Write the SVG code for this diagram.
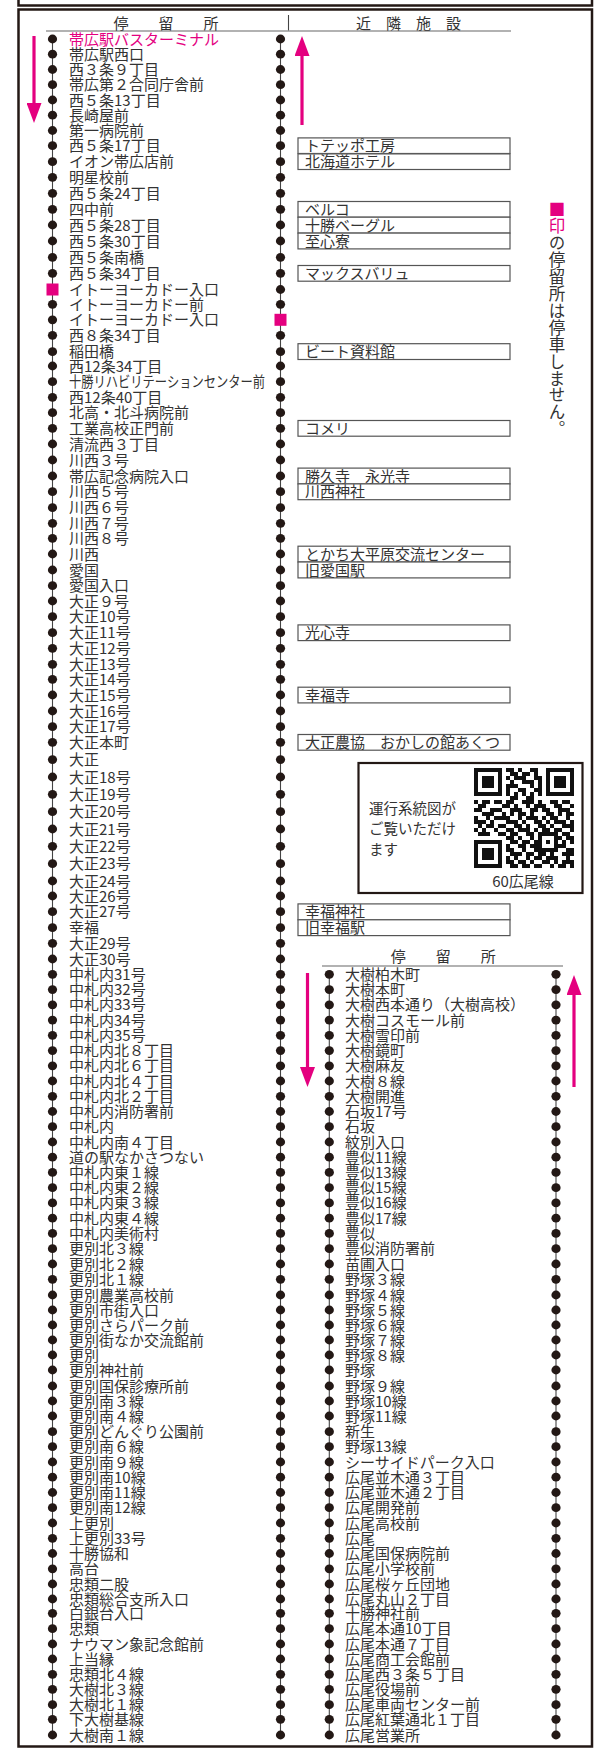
<svg xmlns="http://www.w3.org/2000/svg" xmlns:xlink="http://www.w3.org/1999/xlink" width="601" height="1751" viewBox="0 0 601 1751">
<style>
text{font-family:"Noto Sans CJK JP","Noto Sans CJK SC",sans-serif;font-size:15px;fill:#333}
.pk{fill:#e4007f}
.box{fill:#fff;stroke:#555;stroke-width:1.2}
.dot{fill:#231815}
.rail{stroke:#444;stroke-width:1.1;fill:none}
.frame{fill:none;stroke:#231815;stroke-width:2.5}
.arr{stroke:#e4007f;stroke-width:3.2;fill:none;marker-end:url(#ah)}
.sq{fill:#e4007f}
.qr{fill:none;stroke:#111;stroke-width:4}
</style>
<defs>
<marker id="ah" viewBox="0 0 20 15" refX="4" refY="7.5" markerWidth="20" markerHeight="15" orient="auto" markerUnits="userSpaceOnUse"><path d="M0 0L20 7.5L0 15z" fill="#e4007f"/></marker>
<ellipse id="d" rx="4.6" ry="4.4" class="dot"/>
<g id="dL"><use xlink:href="#d" x="52.5"/><use xlink:href="#d" x="280.5"/></g>
<g id="dR"><use xlink:href="#d" x="329.3"/><use xlink:href="#d" x="556"/></g>
</defs>
<rect width="601" height="1751" fill="#fff"/>
<g id="frame">
<path class="frame" d="M18.5 0V5.5H592V0"/>
<rect class="frame" x="18.5" y="9.5" width="573.5" height="1737"/>
</g>
<g id="header-left">
<text x="166" y="29" text-anchor="middle">停　　留　　所</text>
<line x1="288.5" y1="15" x2="288.5" y2="30.5" stroke="#444" stroke-width="1.1"/>
<text x="408.5" y="29" text-anchor="middle">近　隣　施　設</text>
<line x1="46" y1="31" x2="511" y2="31" stroke="#666" stroke-width="1.1"/>
</g>
<g id="header-right">
<text x="443.3" y="962" text-anchor="middle">停　　留　　所</text>
<line x1="322" y1="966" x2="563" y2="966" stroke="#666" stroke-width="1.1"/>
</g>
<g id="connectors">
<line class="rail" x1="52.5" y1="39" x2="52.5" y2="1735"/>
<line class="rail" x1="280.5" y1="39" x2="280.5" y2="1735"/>
<line class="rail" x1="329.3" y1="974.3" x2="329.3" y2="1735"/>
<line class="rail" x1="556" y1="974.3" x2="556" y2="1735"/>
<path class="arr" d="M34 36V107"/>
<path class="arr" d="M302 125V52"/>
<path class="arr" d="M307.5 973V1071"/>
<path class="arr" d="M574 1087V991"/>
</g>
<g id="legend">
<text x="557" y="201" style="writing-mode:vertical-rl;font-size:16.5px;letter-spacing:0.4px"><tspan class="pk">■印</tspan>の停留所は停車しません。</text>
</g>
<g id="facilities">
<g id="f1"><rect class="box" x="298" y="137.9" width="212" height="15.6"/><text x="305" y="151.2">トテッポ工房</text></g>
<g id="f2"><rect class="box" x="298" y="153.9" width="212" height="15.6"/><text x="305" y="167.2">北海道ホテル</text></g>
<g id="f3"><rect class="box" x="298" y="201.5" width="212" height="15.7"/><text x="305" y="214.8">ベルコ</text></g>
<g id="f4"><rect class="box" x="298" y="217.2" width="212" height="15.9"/><text x="305" y="230.5">十勝ベーグル</text></g>
<g id="f5"><rect class="box" x="298" y="233.1" width="212" height="15.8"/><text x="305" y="246.5">至心寮</text></g>
<g id="f6"><rect class="box" x="298" y="265.5" width="212" height="15.7"/><text x="305" y="278.8">マックスバリュ</text></g>
<g id="f7"><rect class="box" x="298" y="343.7" width="212" height="15.8"/><text x="305" y="357.2">ビート資料館</text></g>
<g id="f8"><rect class="box" x="298" y="420.5" width="212" height="15.7"/><text x="305" y="433.8">コメリ</text></g>
<g id="f9"><rect class="box" x="298" y="468.1" width="212" height="15.8"/><text x="305" y="481.5">勝久寺　永光寺</text></g>
<g id="f10"><rect class="box" x="298" y="483.9" width="212" height="15.8"/><text x="305" y="497.2">川西神社</text></g>
<g id="f11"><rect class="box" x="298" y="546.2" width="212" height="15.8"/><text x="305" y="559.5">とかち大平原交流センター</text></g>
<g id="f12"><rect class="box" x="298" y="562" width="212" height="15.9"/><text x="305" y="575.5">旧愛国駅</text></g>
<g id="f13"><rect class="box" x="298" y="624.9" width="212" height="15.7"/><text x="305" y="638.2">光心寺</text></g>
<g id="f14"><rect class="box" x="298" y="687.2" width="212" height="15.7"/><text x="305" y="700.5">幸福寺</text></g>
<g id="f15"><rect class="box" x="298" y="734.5" width="212" height="15.7"/><text x="305" y="747.8">大正農協　おかしの館あくつ</text></g>
<g id="f16"><rect class="box" x="298" y="903.9" width="212" height="15.9"/><text x="305" y="917.2">幸福神社</text></g>
<g id="f17"><rect class="box" x="298" y="919.8" width="212" height="15.8"/><text x="305" y="933.2">旧幸福駅</text></g>
</g>
<g id="qrbox">
<rect x="358.5" y="763" width="224" height="130" fill="#fff" stroke="#231815" stroke-width="2.2"/>
<text x="369" y="813.5" style="font-size:14.5px">運行系統図が</text>
<text x="369" y="834" style="font-size:14.5px">ご覧いただけ</text>
<text x="369" y="854.5" style="font-size:14.5px">ます</text>
<rect class="qr" x="476" y="770" width="24" height="24"/><rect x="482" y="776" width="12" height="12" fill="#111"/>
<rect class="qr" x="548" y="770" width="24" height="24"/><rect x="554" y="776" width="12" height="12" fill="#111"/>
<rect class="qr" x="476" y="842" width="24" height="24"/><rect x="482" y="848" width="12" height="12" fill="#111"/>
<rect class="qr" x="540" y="834" width="16" height="16"/><rect x="546" y="840" width="4" height="4" fill="#111"/>
<path stroke="#111" stroke-width="4" fill="none" d="M506 770h8M518 770h4M530 770h8M510 774h8M522 774h8M534 774h4M506 778h4M514 778h12M534 778h8M510 782h4M522 782h12M538 782h4M506 786h12M530 786h4M538 786h4M506 790h4M518 790h8M534 790h8M506 794h4M514 794h4M522 794h4M530 794h4M538 794h4M510 798h8M526 798h8M474 802h4M482 802h8M494 802h8M506 802h8M522 802h12M538 802h4M550 802h8M562 802h8M478 806h8M502 806h8M514 806h4M526 806h4M534 806h12M554 806h8M570 806h4M474 810h8M490 810h12M510 810h12M530 810h8M542 810h8M558 810h12M482 814h12M502 814h4M510 814h4M518 814h8M530 814h4M546 814h8M558 814h4M566 814h8M474 818h4M486 818h4M494 818h16M518 818h4M526 818h12M542 818h4M550 818h8M566 818h4M474 822h12M490 822h4M506 822h12M522 822h4M534 822h8M546 822h4M554 822h12M570 822h4M478 826h4M486 826h8M498 826h8M514 826h8M526 826h4M538 826h8M550 826h4M562 826h12M474 830h4M482 830h4M494 830h4M506 830h8M518 830h12M534 830h4M542 830h8M554 830h8M570 830h4M478 834h12M498 834h8M510 834h8M526 834h8M562 834h8M506 838h8M518 838h4M530 838h4M558 838h4M566 838h8M510 842h8M522 842h8M534 842h4M562 842h4M570 842h4M506 846h4M518 846h8M530 846h8M558 846h8M506 850h8M522 850h4M534 850h4M566 850h8M510 854h12M526 854h8M538 854h8M550 854h4M562 854h12M506 858h4M514 858h4M526 858h4M534 858h8M546 858h12M566 858h4M506 862h8M518 862h8M530 862h4M542 862h8M554 862h4M562 862h12M510 866h8M522 866h8M534 866h8M550 866h4M558 866h8M570 866h4"/>
<text x="523" y="887" text-anchor="middle">60広尾線</text>
</g>
<g id="stops-left">
<g id="s1" transform="translate(0 39)"><use xlink:href="#dL"/><text class="pk" x="69" y="5.5">帯広駅バスターミナル</text></g>
<g id="s2" transform="translate(0 54.2)"><use xlink:href="#dL"/><text x="69" y="5.5">帯広駅西口</text></g>
<g id="s3" transform="translate(0 69.5)"><use xlink:href="#dL"/><text x="69" y="5.5">西３条９丁目</text></g>
<g id="s4" transform="translate(0 84.7)"><use xlink:href="#dL"/><text x="69" y="5.5">帯広第２合同庁舎前</text></g>
<g id="s5" transform="translate(0 100)"><use xlink:href="#dL"/><text x="69" y="5.5">西５条13丁目</text></g>
<g id="s6" transform="translate(0 115.2)"><use xlink:href="#dL"/><text x="69" y="5.5">長崎屋前</text></g>
<g id="s7" transform="translate(0 130.5)"><use xlink:href="#dL"/><text x="69" y="5.5">第一病院前</text></g>
<g id="s8" transform="translate(0 145.7)"><use xlink:href="#dL"/><text x="69" y="5.5">西５条17丁目</text></g>
<g id="s9" transform="translate(0 161.7)"><use xlink:href="#dL"/><text x="69" y="5.5">イオン帯広店前</text></g>
<g id="s10" transform="translate(0 177.3)"><use xlink:href="#dL"/><text x="69" y="5.5">明星校前</text></g>
<g id="s11" transform="translate(0 193.3)"><use xlink:href="#dL"/><text x="69" y="5.5">西５条24丁目</text></g>
<g id="s12" transform="translate(0 209.3)"><use xlink:href="#dL"/><text x="69" y="5.5">四中前</text></g>
<g id="s13" transform="translate(0 225)"><use xlink:href="#dL"/><text x="69" y="5.5">西５条28丁目</text></g>
<g id="s14" transform="translate(0 241)"><use xlink:href="#dL"/><text x="69" y="5.5">西５条30丁目</text></g>
<g id="s15" transform="translate(0 257.3)"><use xlink:href="#dL"/><text x="69" y="5.5">西５条南橋</text></g>
<g id="s16" transform="translate(0 273.3)"><use xlink:href="#dL"/><text x="69" y="5.5">西５条34丁目</text></g>
<g id="s17" transform="translate(0 289.5)"><rect class="sq" x="46.5" y="-6" width="12" height="12"/><use xlink:href="#d" x="280.5"/><text x="69" y="5.5">イトーヨーカドー入口</text></g>
<g id="s18" transform="translate(0 304.3)"><use xlink:href="#dL"/><text x="69" y="5.5">イトーヨーカドー前</text></g>
<g id="s19" transform="translate(0 319.8)"><use xlink:href="#d" x="52.5"/><rect class="sq" x="274.5" y="-6" width="12" height="12"/><text x="69" y="5.5">イトーヨーカドー入口</text></g>
<g id="s20" transform="translate(0 335.3)"><use xlink:href="#dL"/><text x="69" y="5.5">西８条34丁目</text></g>
<g id="s21" transform="translate(0 351.7)"><use xlink:href="#dL"/><text x="69" y="5.5">稲田橋</text></g>
<g id="s22" transform="translate(0 366)"><use xlink:href="#dL"/><text x="69" y="5.5">西12条34丁目</text></g>
<g id="s23" transform="translate(0 381.7)"><use xlink:href="#dL"/><text x="69" y="5.5" textLength="196" lengthAdjust="spacingAndGlyphs">十勝リハビリテーションセンター前</text></g>
<g id="s24" transform="translate(0 397.3)"><use xlink:href="#dL"/><text x="69" y="5.5">西12条40丁目</text></g>
<g id="s25" transform="translate(0 412.7)"><use xlink:href="#dL"/><text x="69" y="5.5">北高・北斗病院前</text></g>
<g id="s26" transform="translate(0 428.3)"><use xlink:href="#dL"/><text x="69" y="5.5">工業高校正門前</text></g>
<g id="s27" transform="translate(0 444)"><use xlink:href="#dL"/><text x="69" y="5.5">清流西３丁目</text></g>
<g id="s28" transform="translate(0 460)"><use xlink:href="#dL"/><text x="69" y="5.5">川西３号</text></g>
<g id="s29" transform="translate(0 476)"><use xlink:href="#dL"/><text x="69" y="5.5">帯広記念病院入口</text></g>
<g id="s30" transform="translate(0 491.7)"><use xlink:href="#dL"/><text x="69" y="5.5">川西５号</text></g>
<g id="s31" transform="translate(0 507.7)"><use xlink:href="#dL"/><text x="69" y="5.5">川西６号</text></g>
<g id="s32" transform="translate(0 523.3)"><use xlink:href="#dL"/><text x="69" y="5.5">川西７号</text></g>
<g id="s33" transform="translate(0 538.3)"><use xlink:href="#dL"/><text x="69" y="5.5">川西８号</text></g>
<g id="s34" transform="translate(0 554)"><use xlink:href="#dL"/><text x="69" y="5.5">川西</text></g>
<g id="s35" transform="translate(0 570)"><use xlink:href="#dL"/><text x="69" y="5.5">愛国</text></g>
<g id="s36" transform="translate(0 585.7)"><use xlink:href="#dL"/><text x="69" y="5.5">愛国入口</text></g>
<g id="s37" transform="translate(0 601)"><use xlink:href="#dL"/><text x="69" y="5.5">大正９号</text></g>
<g id="s38" transform="translate(0 616.7)"><use xlink:href="#dL"/><text x="69" y="5.5">大正10号</text></g>
<g id="s39" transform="translate(0 632.7)"><use xlink:href="#dL"/><text x="69" y="5.5">大正11号</text></g>
<g id="s40" transform="translate(0 648.3)"><use xlink:href="#dL"/><text x="69" y="5.5">大正12号</text></g>
<g id="s41" transform="translate(0 664.3)"><use xlink:href="#dL"/><text x="69" y="5.5">大正13号</text></g>
<g id="s42" transform="translate(0 679.3)"><use xlink:href="#dL"/><text x="69" y="5.5">大正14号</text></g>
<g id="s43" transform="translate(0 695)"><use xlink:href="#dL"/><text x="69" y="5.5">大正15号</text></g>
<g id="s44" transform="translate(0 711)"><use xlink:href="#dL"/><text x="69" y="5.5">大正16号</text></g>
<g id="s45" transform="translate(0 726.7)"><use xlink:href="#dL"/><text x="69" y="5.5">大正17号</text></g>
<g id="s46" transform="translate(0 742.3)"><use xlink:href="#dL"/><text x="69" y="5.5">大正本町</text></g>
<g id="s47" transform="translate(0 759.6)"><use xlink:href="#dL"/><text x="69" y="5.5">大正</text></g>
<g id="s48" transform="translate(0 777)"><use xlink:href="#dL"/><text x="69" y="5.5">大正18号</text></g>
<g id="s49" transform="translate(0 794.3)"><use xlink:href="#dL"/><text x="69" y="5.5">大正19号</text></g>
<g id="s50" transform="translate(0 811.7)"><use xlink:href="#dL"/><text x="69" y="5.5">大正20号</text></g>
<g id="s51" transform="translate(0 829)"><use xlink:href="#dL"/><text x="69" y="5.5">大正21号</text></g>
<g id="s52" transform="translate(0 846.3)"><use xlink:href="#dL"/><text x="69" y="5.5">大正22号</text></g>
<g id="s53" transform="translate(0 863.7)"><use xlink:href="#dL"/><text x="69" y="5.5">大正23号</text></g>
<g id="s54" transform="translate(0 881)"><use xlink:href="#dL"/><text x="69" y="5.5">大正24号</text></g>
<g id="s55" transform="translate(0 896)"><use xlink:href="#dL"/><text x="69" y="5.5">大正26号</text></g>
<g id="s56" transform="translate(0 911.7)"><use xlink:href="#dL"/><text x="69" y="5.5">大正27号</text></g>
<g id="s57" transform="translate(0 927.7)"><use xlink:href="#dL"/><text x="69" y="5.5">幸福</text></g>
<g id="s58" transform="translate(0 943.3)"><use xlink:href="#dL"/><text x="69" y="5.5">大正29号</text></g>
<g id="s59" transform="translate(0 959)"><use xlink:href="#dL"/><text x="69" y="5.5">大正30号</text></g>
<g id="s60" transform="translate(0 974.3)"><use xlink:href="#dL"/><text x="69" y="5.5">中札内31号</text></g>
<g id="s61" transform="translate(0 989.6)"><use xlink:href="#dL"/><text x="69" y="5.5">中札内32号</text></g>
<g id="s62" transform="translate(0 1004.8)"><use xlink:href="#dL"/><text x="69" y="5.5">中札内33号</text></g>
<g id="s63" transform="translate(0 1020.1)"><use xlink:href="#dL"/><text x="69" y="5.5">中札内34号</text></g>
<g id="s64" transform="translate(0 1035.3)"><use xlink:href="#dL"/><text x="69" y="5.5">中札内35号</text></g>
<g id="s65" transform="translate(0 1050.6)"><use xlink:href="#dL"/><text x="69" y="5.5">中札内北８丁目</text></g>
<g id="s66" transform="translate(0 1065.8)"><use xlink:href="#dL"/><text x="69" y="5.5">中札内北６丁目</text></g>
<g id="s67" transform="translate(0 1081)"><use xlink:href="#dL"/><text x="69" y="5.5">中札内北４丁目</text></g>
<g id="s68" transform="translate(0 1096.3)"><use xlink:href="#dL"/><text x="69" y="5.5">中札内北２丁目</text></g>
<g id="s69" transform="translate(0 1111.5)"><use xlink:href="#dL"/><text x="69" y="5.5">中札内消防署前</text></g>
<g id="s70" transform="translate(0 1126.7)"><use xlink:href="#dL"/><text x="69" y="5.5">中札内</text></g>
<g id="s71" transform="translate(0 1142)"><use xlink:href="#dL"/><text x="69" y="5.5">中札内南４丁目</text></g>
<g id="s72" transform="translate(0 1157.2)"><use xlink:href="#dL"/><text x="69" y="5.5">道の駅なかさつない</text></g>
<g id="s73" transform="translate(0 1172.4)"><use xlink:href="#dL"/><text x="69" y="5.5">中札内東１線</text></g>
<g id="s74" transform="translate(0 1187.7)"><use xlink:href="#dL"/><text x="69" y="5.5">中札内東２線</text></g>
<g id="s75" transform="translate(0 1202.9)"><use xlink:href="#dL"/><text x="69" y="5.5">中札内東３線</text></g>
<g id="s76" transform="translate(0 1218.2)"><use xlink:href="#dL"/><text x="69" y="5.5">中札内東４線</text></g>
<g id="s77" transform="translate(0 1233.4)"><use xlink:href="#dL"/><text x="69" y="5.5">中札内美術村</text></g>
<g id="s78" transform="translate(0 1248.7)"><use xlink:href="#dL"/><text x="69" y="5.5">更別北３線</text></g>
<g id="s79" transform="translate(0 1264)"><use xlink:href="#dL"/><text x="69" y="5.5">更別北２線</text></g>
<g id="s80" transform="translate(0 1279.3)"><use xlink:href="#dL"/><text x="69" y="5.5">更別北１線</text></g>
<g id="s81" transform="translate(0 1295)"><use xlink:href="#dL"/><text x="69" y="5.5">更別農業高校前</text></g>
<g id="s82" transform="translate(0 1310)"><use xlink:href="#dL"/><text x="69" y="5.5">更別市街入口</text></g>
<g id="s83" transform="translate(0 1325)"><use xlink:href="#dL"/><text x="69" y="5.5">更別さらパーク前</text></g>
<g id="s84" transform="translate(0 1340)"><use xlink:href="#dL"/><text x="69" y="5.5">更別街なか交流館前</text></g>
<g id="s85" transform="translate(0 1355)"><use xlink:href="#dL"/><text x="69" y="5.5">更別</text></g>
<g id="s86" transform="translate(0 1370)"><use xlink:href="#dL"/><text x="69" y="5.5">更別神社前</text></g>
<g id="s87" transform="translate(0 1386)"><use xlink:href="#dL"/><text x="69" y="5.5">更別国保診療所前</text></g>
<g id="s88" transform="translate(0 1401)"><use xlink:href="#dL"/><text x="69" y="5.5">更別南３線</text></g>
<g id="s89" transform="translate(0 1416)"><use xlink:href="#dL"/><text x="69" y="5.5">更別南４線</text></g>
<g id="s90" transform="translate(0 1431.7)"><use xlink:href="#dL"/><text x="69" y="5.5">更別どんぐり公園前</text></g>
<g id="s91" transform="translate(0 1446.7)"><use xlink:href="#dL"/><text x="69" y="5.5">更別南６線</text></g>
<g id="s92" transform="translate(0 1462)"><use xlink:href="#dL"/><text x="69" y="5.5">更別南９線</text></g>
<g id="s93" transform="translate(0 1477.2)"><use xlink:href="#dL"/><text x="69" y="5.5">更別南10線</text></g>
<g id="s94" transform="translate(0 1492.5)"><use xlink:href="#dL"/><text x="69" y="5.5">更別南11線</text></g>
<g id="s95" transform="translate(0 1507.7)"><use xlink:href="#dL"/><text x="69" y="5.5">更別南12線</text></g>
<g id="s96" transform="translate(0 1523)"><use xlink:href="#dL"/><text x="69" y="5.5">上更別</text></g>
<g id="s97" transform="translate(0 1538.3)"><use xlink:href="#dL"/><text x="69" y="5.5">上更別33号</text></g>
<g id="s98" transform="translate(0 1553.5)"><use xlink:href="#dL"/><text x="69" y="5.5">十勝協和</text></g>
<g id="s99" transform="translate(0 1568.8)"><use xlink:href="#dL"/><text x="69" y="5.5">高台</text></g>
<g id="s100" transform="translate(0 1584)"><use xlink:href="#dL"/><text x="69" y="5.5">忠類二股</text></g>
<g id="s101" transform="translate(0 1599)"><use xlink:href="#dL"/><text x="69" y="5.5">忠類総合支所入口</text></g>
<g id="s102" transform="translate(0 1613.3)"><use xlink:href="#dL"/><text x="69" y="5.5">白銀台入口</text></g>
<g id="s103" transform="translate(0 1628.7)"><use xlink:href="#dL"/><text x="69" y="5.5">忠類</text></g>
<g id="s104" transform="translate(0 1644)"><use xlink:href="#dL"/><text x="69" y="5.5">ナウマン象記念館前</text></g>
<g id="s105" transform="translate(0 1659)"><use xlink:href="#dL"/><text x="69" y="5.5">上当縁</text></g>
<g id="s106" transform="translate(0 1674.3)"><use xlink:href="#dL"/><text x="69" y="5.5">忠類北４線</text></g>
<g id="s107" transform="translate(0 1689.3)"><use xlink:href="#dL"/><text x="69" y="5.5">大樹北３線</text></g>
<g id="s108" transform="translate(0 1704.7)"><use xlink:href="#dL"/><text x="69" y="5.5">大樹北１線</text></g>
<g id="s109" transform="translate(0 1719.3)"><use xlink:href="#dL"/><text x="69" y="5.5">下大樹基線</text></g>
<g id="s110" transform="translate(0 1735)"><use xlink:href="#dL"/><text x="69" y="5.5">大樹南１線</text></g>
</g>
<g id="stops-right">
<g id="r1" transform="translate(0 974.3)"><use xlink:href="#dR"/><text x="345" y="5.5">大樹柏木町</text></g>
<g id="r2" transform="translate(0 989.6)"><use xlink:href="#dR"/><text x="345" y="5.5">大樹本町</text></g>
<g id="r3" transform="translate(0 1004.8)"><use xlink:href="#dR"/><text x="345" y="5.5">大樹西本通り（大樹高校）</text></g>
<g id="r4" transform="translate(0 1020.1)"><use xlink:href="#dR"/><text x="345" y="5.5">大樹コスモール前</text></g>
<g id="r5" transform="translate(0 1035.3)"><use xlink:href="#dR"/><text x="345" y="5.5">大樹雪印前</text></g>
<g id="r6" transform="translate(0 1050.6)"><use xlink:href="#dR"/><text x="345" y="5.5">大樹鏡町</text></g>
<g id="r7" transform="translate(0 1065.8)"><use xlink:href="#dR"/><text x="345" y="5.5">大樹麻友</text></g>
<g id="r8" transform="translate(0 1081)"><use xlink:href="#dR"/><text x="345" y="5.5">大樹８線</text></g>
<g id="r9" transform="translate(0 1096.3)"><use xlink:href="#dR"/><text x="345" y="5.5">大樹開進</text></g>
<g id="r10" transform="translate(0 1111.5)"><use xlink:href="#dR"/><text x="345" y="5.5">石坂17号</text></g>
<g id="r11" transform="translate(0 1126.7)"><use xlink:href="#dR"/><text x="345" y="5.5">石坂</text></g>
<g id="r12" transform="translate(0 1142)"><use xlink:href="#dR"/><text x="345" y="5.5">紋別入口</text></g>
<g id="r13" transform="translate(0 1157.2)"><use xlink:href="#dR"/><text x="345" y="5.5">豊似11線</text></g>
<g id="r14" transform="translate(0 1172.4)"><use xlink:href="#dR"/><text x="345" y="5.5">豊似13線</text></g>
<g id="r15" transform="translate(0 1187.7)"><use xlink:href="#dR"/><text x="345" y="5.5">豊似15線</text></g>
<g id="r16" transform="translate(0 1202.9)"><use xlink:href="#dR"/><text x="345" y="5.5">豊似16線</text></g>
<g id="r17" transform="translate(0 1218.2)"><use xlink:href="#dR"/><text x="345" y="5.5">豊似17線</text></g>
<g id="r18" transform="translate(0 1233.4)"><use xlink:href="#dR"/><text x="345" y="5.5">豊似</text></g>
<g id="r19" transform="translate(0 1248.7)"><use xlink:href="#dR"/><text x="345" y="5.5">豊似消防署前</text></g>
<g id="r20" transform="translate(0 1264)"><use xlink:href="#dR"/><text x="345" y="5.5">苗圃入口</text></g>
<g id="r21" transform="translate(0 1279.3)"><use xlink:href="#dR"/><text x="345" y="5.5">野塚３線</text></g>
<g id="r22" transform="translate(0 1295)"><use xlink:href="#dR"/><text x="345" y="5.5">野塚４線</text></g>
<g id="r23" transform="translate(0 1310)"><use xlink:href="#dR"/><text x="345" y="5.5">野塚５線</text></g>
<g id="r24" transform="translate(0 1325)"><use xlink:href="#dR"/><text x="345" y="5.5">野塚６線</text></g>
<g id="r25" transform="translate(0 1340)"><use xlink:href="#dR"/><text x="345" y="5.5">野塚７線</text></g>
<g id="r26" transform="translate(0 1355)"><use xlink:href="#dR"/><text x="345" y="5.5">野塚８線</text></g>
<g id="r27" transform="translate(0 1370)"><use xlink:href="#dR"/><text x="345" y="5.5">野塚</text></g>
<g id="r28" transform="translate(0 1386)"><use xlink:href="#dR"/><text x="345" y="5.5">野塚９線</text></g>
<g id="r29" transform="translate(0 1401)"><use xlink:href="#dR"/><text x="345" y="5.5">野塚10線</text></g>
<g id="r30" transform="translate(0 1416)"><use xlink:href="#dR"/><text x="345" y="5.5">野塚11線</text></g>
<g id="r31" transform="translate(0 1431.7)"><use xlink:href="#dR"/><text x="345" y="5.5">新生</text></g>
<g id="r32" transform="translate(0 1446.7)"><use xlink:href="#dR"/><text x="345" y="5.5">野塚13線</text></g>
<g id="r33" transform="translate(0 1462)"><use xlink:href="#dR"/><text x="345" y="5.5">シーサイドパーク入口</text></g>
<g id="r34" transform="translate(0 1477.2)"><use xlink:href="#dR"/><text x="345" y="5.5">広尾並木通３丁目</text></g>
<g id="r35" transform="translate(0 1492.5)"><use xlink:href="#dR"/><text x="345" y="5.5">広尾並木通２丁目</text></g>
<g id="r36" transform="translate(0 1507.7)"><use xlink:href="#dR"/><text x="345" y="5.5">広尾開発前</text></g>
<g id="r37" transform="translate(0 1523)"><use xlink:href="#dR"/><text x="345" y="5.5">広尾高校前</text></g>
<g id="r38" transform="translate(0 1538.3)"><use xlink:href="#dR"/><text x="345" y="5.5">広尾</text></g>
<g id="r39" transform="translate(0 1553.5)"><use xlink:href="#dR"/><text x="345" y="5.5">広尾国保病院前</text></g>
<g id="r40" transform="translate(0 1568.8)"><use xlink:href="#dR"/><text x="345" y="5.5">広尾小学校前</text></g>
<g id="r41" transform="translate(0 1584)"><use xlink:href="#dR"/><text x="345" y="5.5">広尾桜ヶ丘団地</text></g>
<g id="r42" transform="translate(0 1599)"><use xlink:href="#dR"/><text x="345" y="5.5">広尾丸山２丁目</text></g>
<g id="r43" transform="translate(0 1613.3)"><use xlink:href="#dR"/><text x="345" y="5.5">十勝神社前</text></g>
<g id="r44" transform="translate(0 1628.7)"><use xlink:href="#dR"/><text x="345" y="5.5">広尾本通10丁目</text></g>
<g id="r45" transform="translate(0 1644)"><use xlink:href="#dR"/><text x="345" y="5.5">広尾本通７丁目</text></g>
<g id="r46" transform="translate(0 1659)"><use xlink:href="#dR"/><text x="345" y="5.5">広尾商工会館前</text></g>
<g id="r47" transform="translate(0 1674.3)"><use xlink:href="#dR"/><text x="345" y="5.5">広尾西３条５丁目</text></g>
<g id="r48" transform="translate(0 1689.3)"><use xlink:href="#dR"/><text x="345" y="5.5">広尾役場前</text></g>
<g id="r49" transform="translate(0 1704.7)"><use xlink:href="#dR"/><text x="345" y="5.5">広尾車両センター前</text></g>
<g id="r50" transform="translate(0 1719.3)"><use xlink:href="#dR"/><text x="345" y="5.5">広尾紅葉通北１丁目</text></g>
<g id="r51" transform="translate(0 1735)"><use xlink:href="#dR"/><text x="345" y="5.5">広尾営業所</text></g>
</g>
</svg>
